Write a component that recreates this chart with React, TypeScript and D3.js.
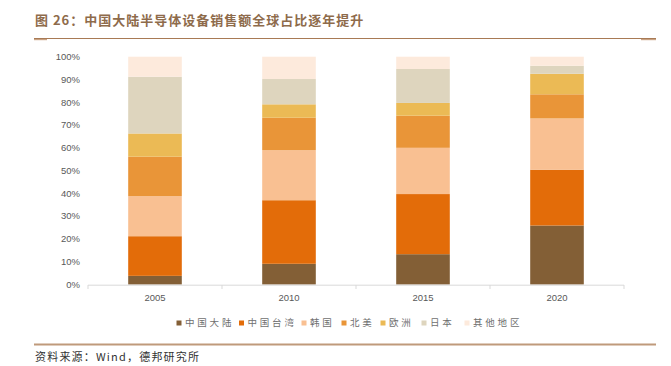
import React from "react";
import * as d3 from "d3";

const categories = ["2005", "2010", "2015", "2020"];
const seriesNames = ["中国大陆", "中国台湾", "韩国", "北美", "欧洲", "日本", "其他地区"];
const mainland = [3.8, 9.1, 13.3, 25.9];
const taiwan = [17.4, 27.9, 26.4, 24.5];
const korea = [17.6, 22.0, 20.3, 22.5];
const northAmerica = [17.3, 14.2, 14.1, 10.6];
const europe = [10.2, 5.9, 5.6, 9.0];
const japan = [24.9, 11.1, 14.9, 3.5];
const others = [8.8, 9.8, 5.4, 4.0];
const yTicks = [0, 10, 20, 30, 40, 50, 60, 70, 80, 90, 100];
const colors = ["#835F36", "#E36C09", "#F9C092", "#E99538", "#EBBA55", "#DED5BE", "#FDEADC"];

const W = 671;
const H = 366;

export default function App() {
  const allSeries = [mainland, taiwan, korea, northAmerica, europe, japan, others];
  const rows = categories.map((c, i) => {
    const r: any = { cat: c };
    seriesNames.forEach((s, k) => (r[s] = allSeries[k][i]));
    return r;
  });
  const stacked = d3.stack<any>().keys(seriesNames).offset(d3.stackOffsetExpand)(rows);

  const x = d3.scaleBand().domain(categories).range([88, 624]).padding(0);
  const y = d3.scaleLinear().domain([0, 1]).range([284.5, 56.7]);
  const bw = x.bandwidth() * 0.4;

  const legendX = [179, 241.5, 304, 344, 383, 424, 467];
  const font = "'Noto Sans CJK SC', 'Noto Sans', sans-serif";

  return (
    <svg width={W} height={H} style={{ position: "absolute", left: 0, top: 0 }} fontFamily={font}>
      <rect width={W} height={H} fill="#fff" />
      <text x={35} y={25} fontSize={13} fontWeight="bold" fill="#8E6B4B" letterSpacing={1}>
        图 26：中国大陆半导体设备销售额全球占比逐年提升
      </text>
      <line x1={34} x2={656} y1={38.5} y2={38.5} stroke="#A87A55" strokeWidth={1} />
      <line x1={34} x2={47} y1={39.6} y2={39.6} stroke="#C9A283" strokeWidth={1.2} />
      <line x1={641} x2={656} y1={39.6} y2={39.6} stroke="#C9A283" strokeWidth={1.2} />

      {yTicks.map((t) => (
        <text key={t} x={80} y={y(t / 100)} dy="0.35em" textAnchor="end" fontSize={9.5} fill="#595959" fontFamily="'Liberation Sans', Arial, sans-serif">
          {t}%
        </text>
      ))}

      {stacked.map((layer, k) => (
        <g key={layer.key} fill={colors[k]}>
          {layer.map((d, i) => (
            <rect
              key={i}
              x={(x(categories[i]) as number) + (x.bandwidth() - bw) / 2}
              y={y(d[1])}
              width={bw}
              height={y(d[0]) - y(d[1])}
            />
          ))}
        </g>
      ))}

      <line x1={88} x2={624} y1={285.2} y2={285.2} stroke="#D9D9D9" strokeWidth={1} />
      {[...categories.map((c) => x(c) as number), 624].map((tx, i) => (
        <line key={i} x1={tx} x2={tx} y1={285} y2={289} stroke="#D9D9D9" strokeWidth={1} />
      ))}
      {categories.map((c) => (
        <text key={c} x={(x(c) as number) + x.bandwidth() / 2} y={298} dy="0.35em" textAnchor="middle" fontSize={9.5} fill="#595959" fontFamily="'Liberation Sans', Arial, sans-serif">
          {c}
        </text>
      ))}

      {seriesNames.map((s, k) => (
        <g key={s}>
          <rect x={legendX[k] - 2.5} y={320.5} width={5} height={5} fill={colors[k]} />
          <text x={legendX[k] + 6} y={323} dy="0.35em" fontSize={9.5} fill="#6F6F6F" letterSpacing={2.8}>
            {s}
          </text>
        </g>
      ))}

      <line x1={34} x2={656} y1={344.5} y2={344.5} stroke="#BF9A7B" strokeWidth={2} />
      <text x={35} y={357} dy="0.35em" fontSize={11} fill="#333" letterSpacing={1.2}>
        资料来源：Wind，德邦研究所
      </text>
    </svg>
  );
}
